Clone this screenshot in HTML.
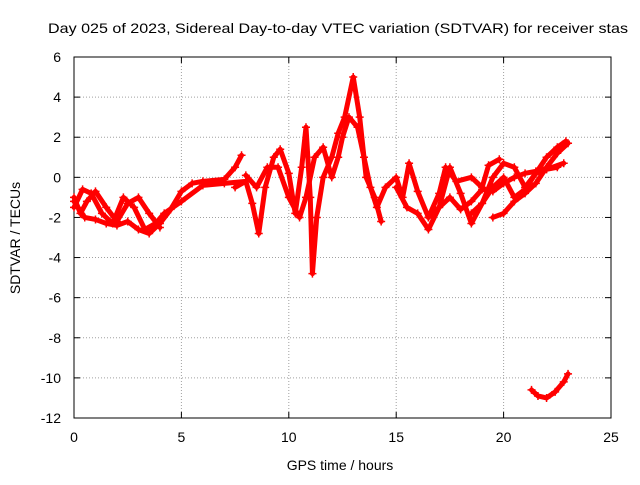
<!DOCTYPE html>
<html><head><meta charset="utf-8"><style>
body{margin:0;background:#fff;font-family:"Liberation Sans",sans-serif}
svg text{font-family:"Liberation Sans",sans-serif;font-size:14px;fill:#000}
</style></head><body>
<svg id="chart" width="640" height="480" xmlns="http://www.w3.org/2000/svg">
<rect width="640" height="480" fill="#fff"/>
<g id="grid"></g><g id="axes"></g><g id="series"></g>
<text x="48" y="33" textLength="580" lengthAdjust="spacingAndGlyphs">Day 025 of 2023, Sidereal Day-to-day VTEC variation (SDTVAR) for receiver stas</text>
<text x="340" y="470" text-anchor="middle">GPS time / hours</text>
<text transform="translate(20,238) rotate(-90)" text-anchor="middle">SDTVAR / TECUs</text>
</svg>
<script>
const xTicks=[0,5,10,15,20,25];
const yTicks=[6,4,2,0,-2,-4,-6,-8,-10,-12];
const s1=[[0,-1],[0.3,-1.8],[0.6,-1.2],[1,-0.7],[1.5,-1.5],[2,-2.2],[2.5,-1.3],[3,-1],[3.5,-1.8],[4,-2.5]];
const s2=[[0,-1.5],[0.4,-0.6],[0.8,-0.8],[1.3,-1.8],[1.8,-2.3],[2.3,-1.0],[2.8,-1.5],[3.3,-2.6],[3.8,-2.3],[4.2,-1.8],[5,-1.2],[6,-0.4],[7,-0.3],[8,-0.2]];
const s3=[[0,-1.2],[0.5,-2],[1,-2.1],[1.5,-2.3],[2,-2.4],[2.5,-2.2],[3,-2.6],[3.5,-2.8],[4,-2.3],[4.5,-1.6],[5,-0.7],[5.5,-0.3],[6,-0.2],[7,-0.1],[7.5,0.5],[7.8,1.1]];
const s4=[[7.5,-0.5],[8,-0.2],[8.3,-1.3],[8.6,-2.8],[8.9,-0.5],[9.3,1],[9.6,1.4],[10,0.2],[10.3,-1.8],[10.6,0.5],[10.8,2.5],[11,-1],[11.1,-4.8],[11.3,-2],[11.6,0],[12,1],[12.3,2.2],[12.6,3],[13,5],[13.3,3],[13.6,0],[14,-1],[14.3,-2.2]];
const s5=[[8,0.1],[8.5,-0.5],[9,0.5],[9.5,0.5],[10,-1],[10.5,-2],[10.8,-1],[11.2,1],[11.6,1.5],[12,0],[12.3,1],[12.5,2],[12.8,3],[13.2,2.5],[13.5,1],[13.8,-0.5],[14.1,-1.5],[14.5,-0.5],[15,0],[15.3,-1],[15.6,0.7],[16,-0.7],[16.5,-2],[17,-1.5],[17.5,0.5],[18,-0.8],[18.5,-2.3],[19,-1.3],[19.5,0],[20,0.7],[20.5,0.5],[21,-0.5],[21.5,0.2],[22,0.4],[22.8,0.7]];
const s6=[[15,-0.5],[15.5,-1.5],[16,-1.8],[16.5,-2.6],[17,-1.5],[17.5,-1],[18,-1.6],[18.5,-1.2],[19,-0.6],[19.5,-0.7],[20,-0.3],[20.5,0],[21,0.2],[21.5,0.3],[22,0.4],[22.5,0.5]];
const s7=[[18.5,-1.8],[19,-1.3],[19.5,-0.5],[20,0],[20.5,-1],[21,-0.6],[21.5,0.2],[22,1],[22.5,1.5],[22.9,1.8]];
const s8=[[19.5,-2],[20,-1.8],[20.5,-1.2],[21,-0.8],[21.5,-0.3],[22,0.5],[22.5,1.2],[23,1.7]];
const s9=[[16.5,-2],[17,-0.8],[17.3,0.5],[17.8,-0.2],[18.5,0],[19,-0.5],[19.3,0.6],[19.8,0.9]];
const s10=[[21.3,-10.6],[21.6,-10.9],[22,-11],[22.4,-10.7],[22.8,-10.2],[23,-9.8]];
const allSeries=[s1,s2,s3,s4,s5,s6,s7,s8,s9,s10];
const X0=74,X1=611,Y0=57,Y1=418;
const xs=v=>X0+(v-0)/25*(X1-X0);
const ys=v=>Y0+(6-v)/18*(Y1-Y0);
const NS="http://www.w3.org/2000/svg";
function mk(t,a,p){const e=document.createElementNS(NS,t);for(const k in a)e.setAttribute(k,a[k]);p.appendChild(e);return e;}
const grid=document.getElementById('grid'),axes=document.getElementById('axes'),ser=document.getElementById('series');
xTicks.forEach(t=>{const x=xs(t);
 if(t>0&&t<25){const g=mk('line',{x1:x,x2:x,y1:Y0,y2:Y1,stroke:'#a0a0a0','stroke-dasharray':'1,2','stroke-width':1},grid);
 
 }
 const tx=mk('text',{x:x,y:Y1+24,'text-anchor':'middle'},axes);tx.textContent=t;
 
 
 mk('line',{x1:x,x2:x,y1:Y1,y2:Y1-6,stroke:'#000'},axes);mk('line',{x1:x,x2:x,y1:Y0,y2:Y0+6,stroke:'#000'},axes);});
yTicks.forEach(t=>{const y=ys(t);
 if(t<6&&t>-12){const g=mk('line',{x1:X0,x2:X1,y1:y,y2:y,stroke:'#a0a0a0','stroke-dasharray':'1,2','stroke-width':1},grid);
 
 }
 const tx=mk('text',{x:X0-13,y:y+5,'text-anchor':'end'},axes);tx.textContent=t;
 
 
 mk('line',{x1:X0,x2:X0+6,y1:y,y2:y,stroke:'#000'},axes);mk('line',{x1:X1,x2:X1-6,y1:y,y2:y,stroke:'#000'},axes);});
const fr=mk('rect',{x:X0,y:Y0,width:X1-X0,height:Y1-Y0,fill:'none',stroke:'#000'},axes);


allSeries.forEach((s,i)=>{
 const pl=mk('polyline',{points:s.map(p=>xs(p[0])+','+ys(p[1])).join(' '),fill:'none',stroke:'#f00','stroke-width':5,'stroke-linejoin':'round','stroke-linecap':'round'},ser);
 
 
 s.forEach(p=>{const x=xs(p[0]),y=ys(p[1]);
  const m=mk('path',{d:`M${x-4},${y}h8M${x},${y-4}v8`,stroke:'#f00','stroke-width':1.5},ser);
  
  });
});
</script>
</body></html>
